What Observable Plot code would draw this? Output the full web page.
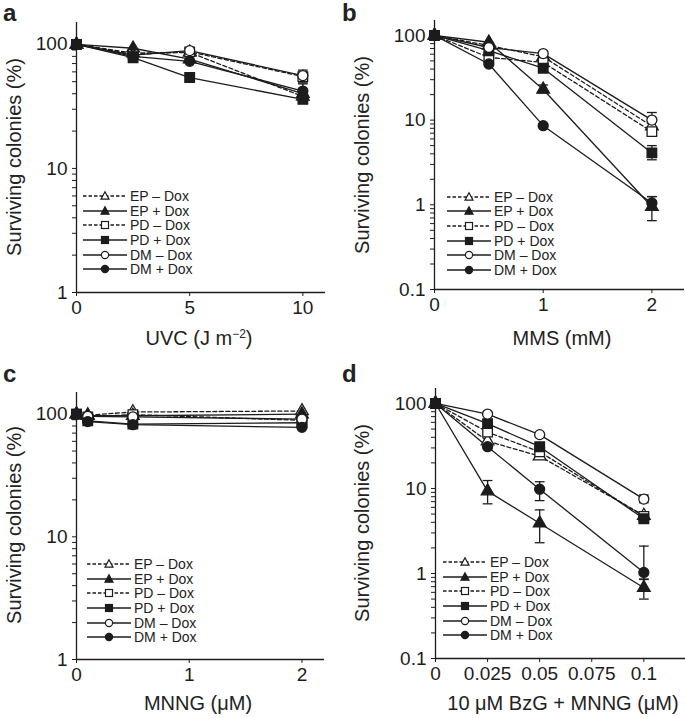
<!DOCTYPE html>
<html><head><meta charset="utf-8">
<script src="https://cdn.jsdelivr.net/npm/d3@7"></script>
<script src="https://cdn.jsdelivr.net/npm/@observablehq/plot@0.6"></script>
<style>
body{margin:0;background:#fff;}
#fig{position:relative;width:685px;height:718px;font-family:"Liberation Sans",Arial,sans-serif;color:#222;overflow:hidden;background:#fff}
.panel{position:absolute}
.letter{position:absolute;font-weight:bold;font-size:24px;line-height:1}
.xlabel{position:absolute;font-size:20px;line-height:1;transform:translate(-50%,-50%);white-space:nowrap}
.ylabel{position:absolute;font-size:20px;line-height:1;transform:translate(-50%,-50%) rotate(-90deg);white-space:nowrap}
.legend{position:absolute;font-size:14px;line-height:1}
.legend .row{height:14.6px;display:flex;align-items:center}
.legend svg{display:block}
sup{font-size:12px;vertical-align:7px;line-height:0}
</style></head><body><div id="fig"></div>
<script>
// ---------- data ----------
const seriesNames = ["EP – Dox", "EP + Dox", "PD – Dox", "PD + Dox", "DM – Dox", "DM + Dox"];

// a: UVC
const uvcDose = [0, 2.5, 5, 10];
const uvcSurvival = [
  [100, 85, 86, 38],
  [100, 93, 76, 40],
  [100, 83, 87, 55],
  [100, 78, 54, 36],
  [100, 82, 89, 56],
  [100, 80, 73, 42]
];
const uvcErrors = [[2, 3, 49, 62], [5, 3, 37, 48]]; // [series, dose index, low, high]

// b: MMS
const mmsDose = [0, 0.5, 1, 2];
const mmsSurvival = [
  [100, 76, 56, 8.5],
  [100, 83, 23, 0.95],
  [100, 55, 48, 7.3],
  [100, 66, 41, 4.1],
  [100, 72, 61, 10],
  [100, 46, 8.6, 1.05]
];
const mmsErrors = [[4, 3, 8.3, 12.3], [2, 3, 6.6, 8.3], [3, 3, 3.4, 5.0], [1, 3, 0.65, 1.25], [5, 3, 0.9, 1.25], [1, 2, 21, 26]];

// c: MNNG
const mnngDose = [0, 0.1, 0.5, 2];
const mnngSurvival = [
  [100, 98, 104, 106],
  [100, 97, 97, 100],
  [100, 95, 99, 89],
  [100, 88, 83, 85],
  [100, 96, 95, 91],
  [100, 87, 82, 78]
];
const mnngErrors = [];

// d: BzG + MNNG
const bzgDose = [0, 0.025, 0.05, 0.1];
const bzgSurvival = [
  [100, 36, 24, 4.8],
  [100, 9.3, 3.9, 0.68],
  [100, 46, 27, 4.7],
  [100, 58, 31, 4.4],
  [100, 75, 43, 7.5],
  [100, 31, 9.8, 1.03]
];
const bzgErrors = [[1, 1, 6.6, 12.4], [1, 2, 2.3, 5.6], [5, 2, 7.2, 12], [5, 3, 0.85, 2.1], [1, 3, 0.5, 0.86], [4, 3, 6.8, 8.4]];

// tick values
const uvcTicks = [0, 5, 10];
const mmsTicks = [0, 1, 2];
const mnngTicks = [0, 1, 2];
const bzgTicks = [0, 0.025, 0.05, 0.075, 0.1];
const logTicks1 = [1,2,3,4,5,6,7,8,9,10,20,30,40,50,60,70,80,90,100];
const logTicks01 = [0.1,0.2,0.3,0.4,0.5,0.6,0.7,0.8,0.9,1,2,3,4,5,6,7,8,9,10,20,30,40,50,60,70,80,90,100];
const logMajors = [0.1, 1, 10, 100];

// ---------- styles ----------
const symbols = ["triangle", "triangle", "square", "square", "circle", "circle"];
const filled = [false, true, false, true, false, true];
const dashed = [true, false, true, false, false, false];
const ink = "#1c1c1c";

const capSymbol = {draw(ctx, size) { const w = Math.sqrt(size) / 2; ctx.moveTo(-w, 0); ctx.lineTo(w, 0); }};

function rows(dose, surv) {
  const out = [];
  surv.forEach((vals, s) => vals.forEach((v, i) => out.push({s, x: dose[i], y: v})));
  return out;
}
function errRows(dose, errs) {
  return errs.map(([s, i, lo, hi]) => ({s, x: dose[i], lo, hi}));
}

function makePanel(cfg) {
  const data = rows(cfg.dose, cfg.surv);
  const err = errRows(cfg.dose, cfg.errs);
  const marks = [
    Plot.ruleX([cfg.xDomain[0]], {stroke: ink, strokeWidth: 1.3}),
    Plot.ruleY([cfg.yDomain[0]], {stroke: ink, strokeWidth: 1.3}),
    Plot.axisX({ticks: cfg.xTicks, tickFormat: d => String(d), tickSize: 4, tickPadding: 4, label: null, stroke: ink}),
    Plot.axisY({ticks: cfg.yTicks, tickFormat: d => logMajors.includes(d) ? String(d) : "", tickSize: 4, tickPadding: 5, label: null, stroke: ink}),
    Plot.ruleX(err, {x: "x", y1: "lo", y2: "hi", stroke: ink, strokeWidth: 1.3}),
    Plot.dot(err, {x: "x", y: "lo", symbol: capSymbol, r: 5.5, stroke: ink, strokeWidth: 1.3, fill: "none"}),
    Plot.dot(err, {x: "x", y: "hi", symbol: capSymbol, r: 5.5, stroke: ink, strokeWidth: 1.3, fill: "none"})
  ];
  for (let s = 0; s < seriesNames.length; s++) {
    const d = data.filter(r => r.s === s);
    marks.push(Plot.line(d, {x: "x", y: "y", stroke: ink, strokeWidth: 1.3, strokeDasharray: dashed[s] ? "4,2.5" : null}));
  }
  for (let s = 0; s < seriesNames.length; s++) {
    const d = data.filter(r => r.s === s);
    const r = symbols[s] === "circle" ? 5 : symbols[s] === "square" ? 5.4 : 4.7;
    marks.push(Plot.dot(d, {x: "x", y: "y", symbol: symbols[s], r, fill: filled[s] ? ink : "white", stroke: ink, strokeWidth: 1.3}));
  }
  const svg = Plot.plot({
    width: cfg.width, height: cfg.height,
    marginLeft: cfg.ml, marginRight: cfg.mr, marginTop: cfg.mt, marginBottom: cfg.mb,
    x: {domain: cfg.xDomain},
    y: {type: "log", domain: cfg.yDomain},
    style: {fontFamily: "'Liberation Sans', Arial, sans-serif", fontSize: "19px", color: ink, background: "transparent", overflow: "visible"},
    marks
  });
  const wrap = document.createElement("div");
  wrap.className = "panel";
  wrap.style.left = cfg.left + "px";
  wrap.style.top = cfg.top + "px";
  wrap.appendChild(svg);
  return wrap;
}

function legendSwatch(s) {
  const dash = dashed[s] ? ' stroke-dasharray="3.5,2"' : "";
  const fill = filled[s] ? ink : "white";
  let m;
  if (symbols[s] === "circle") m = `<circle cx="22" cy="6" r="3.6" fill="${fill}" stroke="${ink}" stroke-width="1.2"/>`;
  else if (symbols[s] === "square") m = `<rect x="18.5" y="2.5" width="7" height="7" fill="${fill}" stroke="${ink}" stroke-width="1.2"/>`;
  else m = `<path d="M22,1.8L26,9.2L18,9.2Z" fill="${fill}" stroke="${ink}" stroke-width="1.2"/>`;
  return `<svg width="46" height="12"><line x1="0" x2="44" y1="6" y2="6" stroke="${ink}" stroke-width="1.3"${dash}/>${m}</svg>`;
}
function makeLegend(left, top) {
  const div = document.createElement("div");
  div.className = "legend";
  div.style.left = left + "px";
  div.style.top = top + "px";
  div.innerHTML = seriesNames.map((n, s) => `<div class="row">${legendSwatch(s)}<span style="margin-left:1px">${n}</span></div>`).join("");
  return div;
}
function addText(cls, html, x, y) {
  const div = document.createElement("div");
  div.className = cls;
  div.style.left = x + "px";
  div.style.top = y + "px";
  div.innerHTML = html;
  return div;
}

const fig = document.getElementById("fig");
fig.appendChild(makePanel({left: 0, top: 0, width: 342, height: 359, ml: 76, mr: 17, mt: 22, mb: 67,
  xDomain: [0, 11], yDomain: [1, 150], xTicks: uvcTicks, yTicks: logTicks1, dose: uvcDose, surv: uvcSurvival, errs: uvcErrors}));
fig.appendChild(makePanel({left: 342, top: 0, width: 343, height: 359, ml: 92, mr: 1, mt: 20, mb: 70,
  xDomain: [0, 2.3], yDomain: [0.1, 150], xTicks: mmsTicks, yTicks: logTicks01, dose: mmsDose, surv: mmsSurvival, errs: mmsErrors}));
fig.appendChild(makePanel({left: 0, top: 359, width: 342, height: 359, ml: 76, mr: 18, mt: 33, mb: 59,
  xDomain: [0, 2.2], yDomain: [1, 150], xTicks: mnngTicks, yTicks: logTicks1, dose: mnngDose, surv: mnngSurvival, errs: mnngErrors}));
fig.appendChild(makePanel({left: 342, top: 359, width: 343, height: 359, ml: 93, mr: 0, mt: 29, mb: 60,
  xDomain: [0, 0.12], yDomain: [0.1, 150], xTicks: bzgTicks, yTicks: logTicks01, dose: bzgDose, surv: bzgSurvival, errs: bzgErrors}));

fig.appendChild(makeLegend(83, 189));
fig.appendChild(makeLegend(447, 189.5));
fig.appendChild(makeLegend(87, 557));
fig.appendChild(makeLegend(443, 555));

fig.appendChild(addText("letter", "a", 3, 1));
fig.appendChild(addText("letter", "b", 342, 1));
fig.appendChild(addText("letter", "c", 3, 362));
fig.appendChild(addText("letter", "d", 342, 362));

fig.appendChild(addText("ylabel", "Surviving colonies (%)", 14, 157));
fig.appendChild(addText("ylabel", "Surviving colonies (%)", 362, 155));
fig.appendChild(addText("ylabel", "Surviving colonies (%)", 14, 525));
fig.appendChild(addText("ylabel", "Surviving colonies (%)", 362, 523));

fig.appendChild(addText("xlabel", "UVC (J m<sup>−2</sup>)", 199, 338));
fig.appendChild(addText("xlabel", "MMS (mM)", 562, 338));
fig.appendChild(addText("xlabel", "MNNG (μM)", 198, 703));
fig.appendChild(addText("xlabel", "10 μM BzG + MNNG (μM)", 563, 703));
</script></body></html>
